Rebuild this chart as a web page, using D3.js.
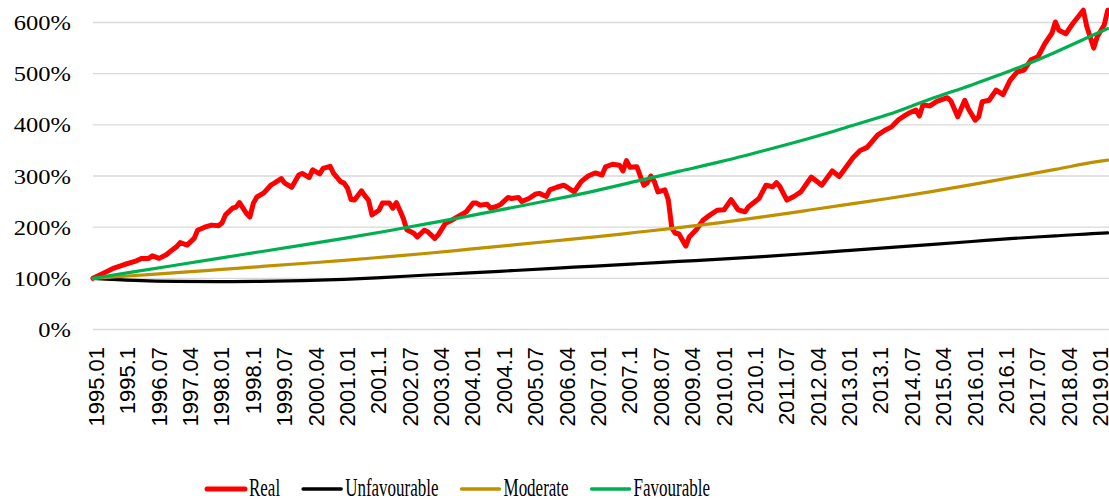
<!DOCTYPE html>
<html>
<head>
<meta charset="utf-8">
<script src="https://cdn.jsdelivr.net/npm/d3@7/dist/d3.min.js"></script>
<style>
  body { margin: 0; background: #fff; }
  svg { display: block; }
</style>
</head>
<body>
<svg></svg>
<script>
// month categories 1995.01 .. 2019.04 (Excel drops the trailing zero of October)
const categories = [];
for (let y = 1995; y <= 2019; y++) {
  for (let m = 1; m <= 12; m++) {
    if (y === 2019 && m > 4) break;
    categories.push(m === 10 ? `${y}.1` : `${y}.${String(m).padStart(2, "0")}`);
  }
}
const tickEvery = 9;

const yTicks = [0, 100, 200, 300, 400, 500, 600];

// real portfolio value, % of initial (month index -> value)
const realMonth = [0, 3, 6, 9, 12, 14, 16, 17, 19, 21, 23, 24, 25, 27, 29, 30, 32, 34, 36, 37, 38, 40, 41, 42, 44, 45, 46, 47, 49, 51, 52, 54, 55, 57, 59, 60, 62, 63, 65, 66, 68, 69, 71, 72, 73, 74, 75, 77, 78, 79, 80, 82, 83, 85, 86, 87, 88, 89, 90, 92, 93, 95, 96, 98, 99, 101, 103, 105, 107, 109, 110, 111, 113, 114, 116, 117, 119, 120, 122, 123, 125, 127, 128, 130, 131, 133, 135, 136, 138, 139, 140, 142, 144, 146, 147, 149, 151, 152, 153, 154, 156, 157, 158, 159, 160, 161, 162, 164, 165, 166, 167, 168, 170, 171, 173, 175, 177, 179, 181, 183, 185, 187, 188, 191, 193, 195, 196, 197, 199, 201, 203, 206, 209, 212, 214, 218, 220, 222, 225, 227, 229, 231, 233, 234, 236, 237, 238, 240, 242, 245, 246, 248, 250, 251, 253, 254, 255, 257, 259, 261, 263, 265, 267, 269, 271, 273, 275, 276, 277, 279, 281, 284, 285, 287, 288, 290, 291];
const realValue = [100, 110, 120, 127, 133, 139, 139, 144, 139, 146, 157, 162, 170, 165, 178, 194, 200, 204, 203, 208, 224, 237, 239, 248, 227, 220, 247, 259, 267, 282, 286, 295, 286, 278, 302, 305, 297, 312, 304, 315, 319, 305, 289, 286, 276, 254, 253, 271, 261, 253, 224, 233, 247, 247, 237, 248, 233, 217, 195, 188, 181, 194, 191, 178, 185, 207, 214, 222, 230, 247, 247, 243, 245, 237, 241, 245, 258, 256, 258, 250, 256, 265, 266, 260, 273, 278, 282, 278, 269, 279, 289, 300, 306, 302, 318, 323, 321, 310, 330, 317, 318, 299, 282, 287, 300, 289, 269, 273, 253, 198, 188, 187, 163, 181, 195, 214, 224, 233, 234, 254, 234, 230, 240, 256, 282, 279, 287, 279, 253, 260, 269, 298, 282, 310, 299, 336, 350, 356, 380, 389, 396, 410, 419, 423, 429, 417, 439, 437, 446, 453, 447, 416, 448, 432, 409, 416, 445, 448, 468, 459, 487, 503, 507, 527, 533, 559, 579, 601, 585, 578, 598, 624, 592, 550, 572, 595, 624];

// scenario curves, read once a year
const scenarioMonth = [0, 12, 24, 36, 48, 60, 72, 84, 96, 108, 120, 132, 144, 156, 168, 180, 192, 204, 216, 228, 240, 252, 264, 276, 288, 291];
const unfavourable = [100, 96, 94, 93.5, 94, 95.5, 98, 102, 106.5, 110.5, 115, 119.5, 124, 128.5, 133, 137.5, 142.5, 148, 154, 160, 166, 172, 178, 183, 188, 189];
const moderate = [100, 105.5, 111, 117, 123, 129, 135, 142, 149, 157, 165, 173, 181, 190, 199, 209, 220, 232, 244, 256, 269, 283, 298, 313, 328, 331];
const favourable = [100, 113, 126, 139, 152, 165, 178, 192, 207, 222, 238, 254, 271, 290, 309, 328, 349, 371, 395, 420, 450, 478, 508, 542, 579, 588];

const seriesNames = ["Real", "Unfavourable", "Moderate", "Favourable"];
const seriesColors = ["#ff0000", "#000000", "#bf9000", "#00b050"];

const width = 1109;
const height = 499;
const plotLeft = 93;
const plotRight = 1107.7;
const plotTop = 22.5;
const plotBottom = 329.5;

const svg = d3.select("svg");
let xScale, yScale;

function drawCanvas() {
  svg.attr("width", width).attr("height", height);
}

function generateScales() {
  xScale = d3.scalePoint().domain(categories).range([plotLeft, plotRight]);
  yScale = d3.scaleLinear().domain([0, 600]).range([plotBottom, plotTop]);
}

function generateAxes() {
  // horizontal gridlines
  svg.append("g")
    .selectAll("line")
    .data(yTicks)
    .enter()
    .append("line")
    .attr("x1", plotLeft)
    .attr("x2", width)
    .attr("y1", (d) => yScale(d))
    .attr("y2", (d) => yScale(d))
    .attr("stroke", "#d9d9d9")
    .attr("stroke-width", 1.4);

  // serif percent labels, a touch wider than Liberation Serif draws them
  let yAxis = d3.axisLeft(yScale).tickValues(yTicks).tickFormat((d) => d + "%").tickSize(0);
  svg.append("g")
    .attr("id", "y-axis")
    .attr("transform", "translate(71, 0)")
    .call(yAxis)
    .call((g) => g.select(".domain").remove())
    .selectAll("text")
    .attr("x", 0)
    .attr("y", 7)
    .attr("dy", 0)
    .attr("transform", "scale(1.14, 1)")
    .style("font-family", "'Liberation Serif', 'Times New Roman', serif")
    .style("font-size", "21.5px")
    .attr("fill", "#000");

  const tickCats = categories.filter((d, i) => i % tickEvery === 0);
  let xAxis = d3.axisBottom(xScale).tickValues(tickCats).tickSize(0);
  svg.append("g")
    .attr("id", "x-axis")
    .attr("transform", `translate(2.7, ${plotBottom})`)
    .call(xAxis)
    .call((g) => g.select(".domain").remove())
    .selectAll("text")
    .attr("transform", "translate(0, 17.5) rotate(-90)")
    .attr("x", 0)
    .attr("y", 0)
    .attr("dy", "0.35em")
    .style("text-anchor", "end")
    .style("font-family", "'Liberation Sans', Arial, sans-serif")
    .style("font-size", "22px")
    .attr("fill", "#000");
}

function drawLines() {
  const line = d3.line()
    .x((d) => xScale(categories[d[0]]))
    .y((d) => yScale(d[1]));

  const real = realMonth.map((m, i) => [m, realValue[i]]);
  const scen = [unfavourable, moderate, favourable].map((vals) =>
    scenarioMonth.map((m, i) => [m, vals[i]])
  );

  svg.append("path")
    .datum(real)
    .attr("d", line)
    .attr("fill", "none")
    .attr("stroke", seriesColors[0])
    .attr("stroke-width", 5)
    .attr("stroke-linejoin", "round")
    .attr("stroke-linecap", "round");

  const smooth = d3.line()
    .x((d) => xScale(categories[d[0]]))
    .y((d) => yScale(d[1]))
    .curve(d3.curveMonotoneX);

  scen.forEach((s, k) => {
    svg.append("path")
      .datum(s)
      .attr("d", smooth)
      .attr("fill", "none")
      .attr("stroke", seriesColors[k + 1])
      .attr("stroke-width", 3.2)
      .attr("stroke-linecap", "round");
  });
}

function drawLegend() {
  const legend = svg.append("g").attr("id", "legend");
  let x = 207;
  const squeeze = 0.68;
  seriesNames.forEach((name, i) => {
    legend.append("line")
      .attr("x1", x)
      .attr("x2", x + 38)
      .attr("y1", 489)
      .attr("y2", 489)
      .attr("stroke", seriesColors[i])
      .attr("stroke-width", i === 0 ? 5 : 3.5)
      .attr("stroke-linecap", "round");
    const t = legend.append("text")
      .attr("transform", `translate(${x + 42}, 496) scale(${squeeze}, 1)`)
      .style("font-family", "'Liberation Serif', serif")
      .style("font-size", "25px")
      .attr("fill", "#000")
      .text(name);
    const w = t.node().getComputedTextLength() * squeeze;
    x += 42 + w + 23;
  });
}

drawCanvas();
generateScales();
generateAxes();
drawLines();
drawLegend();
</script>
</body>
</html>
